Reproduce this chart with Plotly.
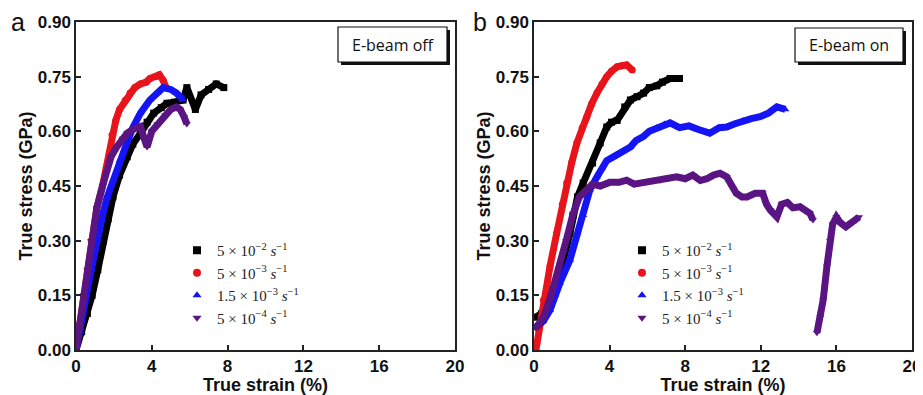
import plotly.graph_objects as go

# ---------------- data ----------------
# Panel a: E-beam off
a_black_x = [0, 0.3, 0.6, 0.85, 1.15, 1.45, 1.7, 1.95, 2.3, 2.7, 3.0, 3.4, 3.75, 4.1, 4.5, 4.8, 5.2, 5.65, 5.85, 6.3, 6.6, 7.0, 7.4, 7.8]
a_black_y = [0, 0.05, 0.10, 0.15, 0.22, 0.30, 0.36, 0.42, 0.48, 0.53, 0.565, 0.595, 0.625, 0.65, 0.665, 0.677, 0.68, 0.686, 0.72, 0.66, 0.70, 0.715, 0.73, 0.72]

a_red_x = [0, 0.2, 0.4, 0.6, 0.8, 1.1, 1.4, 1.6, 1.9, 2.1, 2.3, 2.6, 2.85, 3.1, 3.4, 3.7, 3.9, 4.2, 4.4, 4.6, 4.75]
a_red_y = [0, 0.07, 0.15, 0.22, 0.30, 0.39, 0.45, 0.50, 0.59, 0.63, 0.66, 0.685, 0.705, 0.72, 0.73, 0.735, 0.745, 0.75, 0.755, 0.74, 0.72]

a_blue_x = [0, 0.25, 0.55, 0.8, 1.1, 1.4, 1.65, 1.95, 2.3, 2.7, 3.0, 3.4, 3.9, 4.3, 4.6, 5.0, 5.3, 5.65]
a_blue_y = [0, 0.06, 0.15, 0.22, 0.30, 0.37, 0.42, 0.466, 0.52, 0.57, 0.61, 0.65, 0.686, 0.705, 0.72, 0.715, 0.705, 0.686]

a_purple_x = [0, 0.2, 0.4, 0.6, 0.8, 1.1, 1.4, 1.6, 1.85, 2.15, 2.45, 2.7, 3.0, 3.4, 3.6, 3.75, 4.0, 4.3, 4.7, 5.0, 5.3, 5.5, 5.7, 5.85]
a_purple_y = [0, 0.07, 0.15, 0.22, 0.30, 0.39, 0.45, 0.485, 0.53, 0.557, 0.58, 0.595, 0.605, 0.613, 0.58, 0.557, 0.60, 0.62, 0.645, 0.66, 0.667, 0.66, 0.64, 0.62]

# Panel b: E-beam on
b_black_x = [0.1, 0.4, 0.8, 1.1, 1.55, 1.9, 2.06, 2.3, 2.6, 3.1, 3.5, 3.85, 4.1, 4.4, 4.8, 5.1, 5.45, 5.8, 6.1, 6.5, 6.8, 7.2, 7.55, 7.7]
b_black_y = [0.09, 0.10, 0.13, 0.173, 0.247, 0.32, 0.37, 0.42, 0.458, 0.513, 0.568, 0.612, 0.625, 0.63, 0.667, 0.686, 0.695, 0.705, 0.72, 0.725, 0.735, 0.745, 0.745, 0.745]

b_red_x = [0.1, 0.3, 0.5, 0.85, 1.2, 1.5, 1.73, 2.0, 2.27, 2.55, 2.8, 3.05, 3.33, 3.6, 3.85, 4.1, 4.4, 4.65, 4.9, 5.2]
b_red_y = [0.0, 0.07, 0.137, 0.23, 0.32, 0.40, 0.458, 0.515, 0.568, 0.61, 0.64, 0.675, 0.705, 0.73, 0.75, 0.765, 0.777, 0.78, 0.782, 0.768]

b_blue_x = [0.1, 0.5, 0.85, 1.1, 1.37, 1.9, 2.27, 2.6, 2.96, 3.33, 3.6, 3.85, 4.2, 4.55, 5.1, 5.4, 5.76, 6.1, 6.5, 6.9, 7.2, 7.7, 8.2, 8.7, 9.3, 9.8, 10.2, 10.6, 11.06, 11.5, 11.96, 12.4, 12.85, 13.3]
b_blue_y = [0.063, 0.08, 0.11, 0.15, 0.184, 0.247, 0.32, 0.37, 0.44, 0.475, 0.50, 0.52, 0.53, 0.54, 0.557, 0.575, 0.585, 0.60, 0.61, 0.62, 0.623, 0.61, 0.615, 0.605, 0.595, 0.61, 0.612, 0.62, 0.63, 0.635, 0.64, 0.65, 0.667, 0.66]

b_purple_x = [0.1, 0.5, 0.9, 1.3, 1.7, 2.05, 2.4, 2.8, 3.1, 3.5, 4.0, 4.5, 4.9, 5.3, 5.76, 6.2, 6.67, 7.1, 7.55, 8.0, 8.4, 8.8, 9.15, 9.5, 9.84, 10.2, 10.5, 10.7, 11.0, 11.27, 11.7, 12.1, 12.3, 12.5, 12.85, 13.1, 13.4, 13.7, 14.07, 14.4, 14.6, 14.76,
              None,
              14.97, 15.15, 15.3, 15.5, 15.66, 15.8, 16.0, 16.2, 16.5, 16.8, 17.05, 17.2]
b_purple_y = [0.06, 0.09, 0.15, 0.22, 0.30, 0.37, 0.42, 0.44, 0.455, 0.45, 0.46, 0.46, 0.466, 0.455, 0.46, 0.465, 0.466, 0.47, 0.475, 0.47, 0.48, 0.465, 0.47, 0.48, 0.485, 0.475, 0.445, 0.43, 0.42, 0.42, 0.43, 0.43, 0.40, 0.384, 0.365, 0.40, 0.405, 0.39, 0.393, 0.38, 0.375, 0.357,
              None,
              0.047, 0.09, 0.137, 0.23, 0.30, 0.345, 0.365, 0.35, 0.338, 0.35, 0.357, 0.365]

legend_labels = [
    "5 × 10<sup>−2</sup> <i>s</i><sup>−1</sup>",
    "5 × 10<sup>−3</sup> <i>s</i><sup>−1</sup>",
    "1.5 × 10<sup>−3</sup> <i>s</i><sup>−1</sup>",
    "5 × 10<sup>−4</sup> <i>s</i><sup>−1</sup>",
]
y_ticks = [0.00, 0.15, 0.30, 0.45, 0.60, 0.75, 0.90]
x_ticks = [0, 4, 8, 12, 16, 20]
panel_labels = ["a", "b"]
box_labels = ["E-beam off", "E-beam on"]

# ---------------- styling ----------------
colors = ["#000000", "#e8141b", "#1414f5", "#5a1583"]
symbols = ["square", "circle", "triangle-up", "triangle-down"]

# the page body adds an 8px margin; build the figure in page pixels minus 8
OFF = 8
W, H = 923 - OFF, 395 - OFF
TOP, BOTTOM = 22 - OFF, 350 - OFF      # plot area top / bottom (page px -> fig px)
PH = BOTTOM - TOP


def px_x(p):
    return (p - OFF) / W


def px_y(p):
    return (BOTTOM - (p - OFF)) / PH


fig = go.Figure()

panels = [
    ("x", "y", "legend", [(a_black_x, a_black_y), (a_red_x, a_red_y), (a_blue_x, a_blue_y), (a_purple_x, a_purple_y)]),
    ("x2", "y2", "legend2", [(b_black_x, b_black_y), (b_red_x, b_red_y), (b_blue_x, b_blue_y), (b_purple_x, b_purple_y)]),
]

for xa, ya, lg, series in panels:
    for i, (xs, ys) in enumerate(series):
        fig.add_trace(go.Scatter(
            x=xs, y=ys, xaxis=xa, yaxis=ya, mode="lines+markers",
            line=dict(color=colors[i], width=7),
            marker=dict(color=colors[i], symbol=symbols[i], size=7),
            showlegend=False, hoverinfo="skip", connectgaps=False,
        ))
    for i in range(4):
        fig.add_trace(go.Scatter(
            x=[None], y=[None], xaxis=xa, yaxis=ya, mode="markers",
            marker=dict(color=colors[i], symbol=symbols[i], size=8),
            name=legend_labels[i], legend=lg, showlegend=True,
        ))

axis_common = dict(
    showline=True, linecolor="#222", linewidth=1.5, mirror=True,
    ticks="inside", ticklen=5, tickwidth=1.5, tickcolor="#222",
    showgrid=False, zeroline=False, automargin=False,
    tickfont=dict(family="Liberation Sans", size=17, color="#111", weight="bold"),
)

xa_dom = [px_x(76), px_x(455)]
xb_dom = [px_x(534), px_x(912)]

xt = dict(axis_common, range=[0, 20], tickvals=x_ticks,
          title=dict(text="<b>True strain (%)</b>", font=dict(family="Liberation Sans", size=18, color="#111"), standoff=0))
yt = dict(axis_common, range=[0, 0.9], tickvals=y_ticks, tickformat=".2f",
          title=dict(text="<b>True stress (GPa)</b>", font=dict(family="Liberation Sans", size=18, color="#111"), standoff=0))

legend_common = dict(xanchor="left", yanchor="top", bgcolor="rgba(0,0,0,0)",
                     font=dict(family="Liberation Serif", size=15, color="#222"), itemwidth=30)

fig.update_layout(
    width=W, height=H,
    margin=dict(l=0, r=0, t=TOP, b=H - BOTTOM),
    paper_bgcolor="white", plot_bgcolor="white",
    xaxis=dict(xt, domain=xa_dom, anchor="y"),
    yaxis=dict(yt, domain=[0, 1], anchor="x"),
    xaxis2=dict(xt, domain=xb_dom, anchor="y2"),
    yaxis2=dict(yt, domain=[0, 1], anchor="x2"),
    legend=dict(legend_common, x=px_x(177), y=px_y(234)),
    legend2=dict(legend_common, x=px_x(622), y=px_y(234)),
    showlegend=True,
)

# E-beam boxes with drop shadow (page pixel positions -> paper coords)
boxes = [(338, 447, 27, 62), (795, 903, 28, 62)]
for k, (bx0, bx1, by0, by1) in enumerate(boxes):
    fig.add_shape(type="rect", xref="paper", yref="paper",
                  x0=px_x(bx0 + 3), x1=px_x(bx1 + 3), y0=px_y(by1 + 3), y1=px_y(by0 + 3),
                  fillcolor="#111", line=dict(width=0))
    fig.add_shape(type="rect", xref="paper", yref="paper",
                  x0=px_x(bx0), x1=px_x(bx1), y0=px_y(by1), y1=px_y(by0),
                  fillcolor="white", line=dict(color="#111", width=1.2))
    fig.add_annotation(xref="paper", yref="paper", xanchor="center", yanchor="middle",
                       x=px_x((bx0 + bx1) / 2), y=px_y((by0 + by1) / 2),
                       text=box_labels[k], showarrow=False,
                       font=dict(family="Open Sans", size=16, color="#111"))

# panel letters
for k, (lx, ly) in enumerate([(18, 22), (480, 22)]):
    fig.add_annotation(xref="paper", yref="paper", xanchor="center", yanchor="middle",
                       x=px_x(lx), y=px_y(ly),
                       text=panel_labels[k], showarrow=False,
                       font=dict(family="Liberation Sans", size=25, color="#111"))

fig.write_html("out.html")
